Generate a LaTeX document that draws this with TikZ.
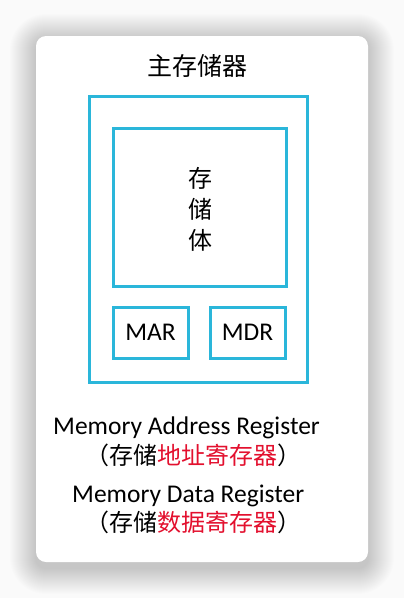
\documentclass[tikz,border=0pt]{standalone}
\usepackage{fontspec}
\setmainfont{Carlito}
\newfontfamily\cjk{Noto Sans CJK SC}
\definecolor{cyanbox}{HTML}{2AB6DA}
\definecolor{redtxt}{HTML}{E3102E}
\definecolor{bggray}{HTML}{FAFAFA}
\tikzset{
  box/.style={draw=cyanbox, line width=3pt, inner sep=0pt},
  cn/.style={font=\cjk\fontsize{24}{28}\selectfont, inner sep=0pt},
  en/.style={font=\fontsize{25.5}{30}\selectfont, inner sep=0pt},
}
\begin{document}
\begin{tikzpicture}[x=1pt,y=-1pt]
\fill[bggray] (0,0) rectangle (404,598);
\useasboundingbox (0,0) rectangle (404,598);
\foreach \i in {1,...,26}{
  \fill[black, opacity=0.007, rounded corners={10pt+\i pt}]
    (36-\i,40-\i) rectangle (368+\i,568+\i);
}
\node[fill=white, rounded corners=10pt, minimum width=332pt, minimum height=526pt] (card) at (202,299) {};
\node[cn, font=\cjk\fontsize{25}{30}\selectfont] (title) at (197.5,66) {主存储器};
\node[box, minimum width=218pt, minimum height=286pt] (outer) at (198,239) {};
\node[box, minimum width=173pt, minimum height=158pt] (store) at (199.5,207) {};
\node[cn, align=center] (storetxt) at (200,209) {存\\[3pt]储\\[3pt]体};
\node[box, minimum width=75pt, minimum height=51pt, en] (mar) at (150.5,332.5) {MAR};
\node[box, minimum width=75pt, minimum height=51pt, en] (mdr) at (247.5,332.5) {MDR};
\node[en, anchor=west] (mare) at (53,428) {Memory Address Register};
\node[cn, anchor=west] (marc) at (85,455) {（存储\textcolor{redtxt}{地址寄存器}）};
\node[en, anchor=west] (mdre) at (72,496) {Memory Data Register};
\node[cn, anchor=west] (mdrc) at (85,522) {（存储\textcolor{redtxt}{数据寄存器}）};
\end{tikzpicture}
\end{document}
